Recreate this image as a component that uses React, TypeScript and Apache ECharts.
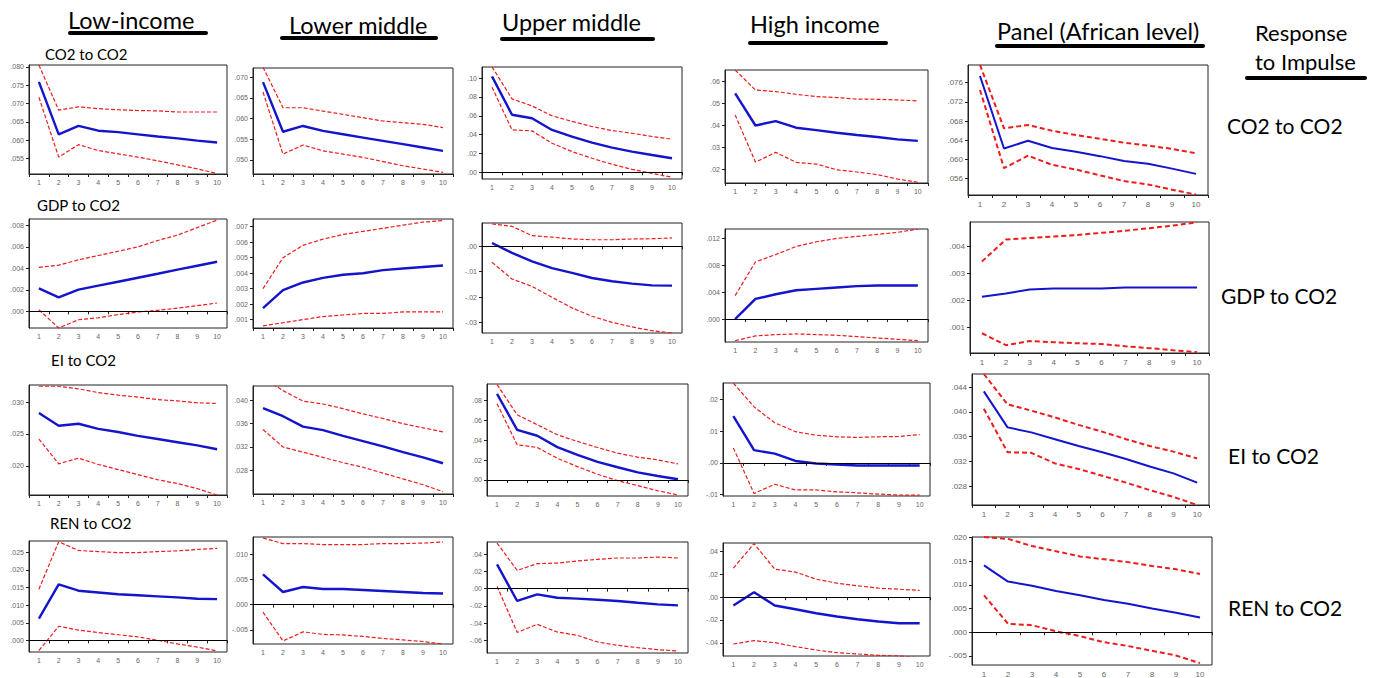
import React, { useEffect, useRef } from "react";
import * as echarts from "echarts";

const periods = ["1", "2", "3", "4", "5", "6", "7", "8", "9", "10"];

// Low-income
const lowCo2Irf = [0.0759, 0.0616, 0.0639, 0.0626, 0.0622, 0.0616, 0.061, 0.0605, 0.0599, 0.0594];
const lowCo2Up = [0.0805, 0.0682, 0.0691, 0.0686, 0.0683, 0.0681, 0.068, 0.0677, 0.0677, 0.0677];
const lowCo2Lo = [0.0717, 0.0554, 0.0588, 0.0572, 0.0563, 0.0554, 0.0544, 0.0533, 0.0522, 0.0509];
const lowGdpIrf = [0.00214, 0.0013, 0.00202, 0.00239, 0.00276, 0.00313, 0.0035, 0.00388, 0.00425, 0.00462];
const lowGdpUp = [0.0041, 0.0043, 0.0048, 0.0052, 0.0056, 0.006, 0.0066, 0.0071, 0.0078, 0.0085];
const lowGdpLo = [0.00015, -0.00155, -0.00078, -0.0006, -0.0003, -0.00006, 0.0001, 0.0003, 0.00053, 0.00078];
const lowEiIrf = [0.0283, 0.0263, 0.0266, 0.0258, 0.0253, 0.0247, 0.0242, 0.0237, 0.0232, 0.0226];
const lowEiUp = [0.0325, 0.0325, 0.0321, 0.0315, 0.0311, 0.0308, 0.0304, 0.0302, 0.0299, 0.0298];
const lowEiLo = [0.0242, 0.0203, 0.0212, 0.0202, 0.0194, 0.0186, 0.0178, 0.0172, 0.0164, 0.0154];
const lowRenIrf = [0.0062, 0.0159, 0.0141, 0.0136, 0.0131, 0.0128, 0.0125, 0.0122, 0.0118, 0.0117];
const lowRenUp = [0.0145, 0.028, 0.0255, 0.0252, 0.0249, 0.0249, 0.0252, 0.0254, 0.0258, 0.0261];
const lowRenLo = [-0.0029, 0.004, 0.0029, 0.0022, 0.0016, 0.001, 0.0, -0.001, -0.0019, -0.003];

// Lower middle
const lmCo2Irf = [0.0688, 0.0568, 0.0582, 0.057, 0.0562, 0.0554, 0.0546, 0.0538, 0.053, 0.0522];
const lmCo2Up = [0.0724, 0.0626, 0.0626, 0.0618, 0.061, 0.0602, 0.0594, 0.059, 0.0586, 0.0578];
const lmCo2Lo = [0.0664, 0.0514, 0.0536, 0.0522, 0.0514, 0.0506, 0.0496, 0.0486, 0.0478, 0.047];
const lmGdpIrf = [0.00175, 0.0029, 0.0034, 0.0037, 0.0039, 0.004, 0.0042, 0.0043, 0.0044, 0.0045];
const lmGdpUp = [0.003, 0.005, 0.0058, 0.0062, 0.0065, 0.0067, 0.0069, 0.0071, 0.0073, 0.0074];
const lmGdpLo = [0.0006, 0.0008, 0.001, 0.0012, 0.0013, 0.0014, 0.0014, 0.0015, 0.0015, 0.0015];
const lmEiIrf = [0.0387, 0.0373, 0.0355, 0.0349, 0.0339, 0.033, 0.0321, 0.0311, 0.0302, 0.0292];
const lmEiUp = [0.044, 0.0417, 0.0399, 0.0394, 0.0386, 0.0377, 0.0369, 0.036, 0.0353, 0.0346];
const lmEiLo = [0.035, 0.032, 0.0311, 0.0302, 0.0293, 0.0285, 0.0275, 0.0265, 0.0255, 0.0243];
const lmRenIrf = [0.006, 0.0025, 0.0035, 0.0031, 0.0031, 0.0029, 0.0027, 0.0025, 0.0023, 0.0022];
const lmRenUp = [0.0132, 0.0121, 0.0121, 0.0119, 0.0119, 0.0119, 0.0121, 0.0121, 0.0122, 0.0124];
const lmRenLo = [-0.0015, -0.0072, -0.0054, -0.0059, -0.006, -0.0063, -0.0067, -0.007, -0.0073, -0.0078];

// Upper middle
const umCo2Irf = [0.1018, 0.0611, 0.0574, 0.045, 0.0379, 0.0315, 0.0262, 0.022, 0.0184, 0.0149];
const umCo2Up = [0.112, 0.078, 0.0705, 0.06, 0.054, 0.0486, 0.0443, 0.0415, 0.038, 0.0351];
const umCo2Lo = [0.0904, 0.045, 0.044, 0.0309, 0.022, 0.0149, 0.0085, 0.0032, -0.0011, -0.0053];
const umGdpIrf = [0.0013, -0.0026, -0.0059, -0.0086, -0.0105, -0.0125, -0.0138, -0.0147, -0.0154, -0.0155];
const umGdpUp = [0.0088, 0.0079, 0.0042, 0.0036, 0.0029, 0.0026, 0.0026, 0.0029, 0.003, 0.0033];
const umGdpLo = [-0.0063, -0.0129, -0.0158, -0.0201, -0.0243, -0.0276, -0.03, -0.0318, -0.0333, -0.0342];
const umEiIrf = [0.0864, 0.0504, 0.0444, 0.033, 0.0252, 0.0182, 0.0128, 0.0077, 0.004, 0.0007];
const umEiUp = [0.0958, 0.0655, 0.0555, 0.0454, 0.0387, 0.0326, 0.0269, 0.0229, 0.0202, 0.0161];
const umEiLo = [0.0766, 0.0353, 0.0326, 0.0218, 0.0134, 0.0057, -0.0007, -0.0057, -0.0108, -0.0151];
const umRenIrf = [0.0283, -0.0143, -0.0066, -0.0105, -0.0116, -0.0128, -0.0143, -0.0163, -0.0182, -0.0194];
const umRenUp = [0.0531, 0.0213, 0.0291, 0.0298, 0.0322, 0.0341, 0.0357, 0.0357, 0.0368, 0.0357];
const umRenLo = [0.0027, -0.0508, -0.0415, -0.0504, -0.0543, -0.062, -0.0659, -0.0686, -0.0709, -0.0725];

// High income
const hiCo2Irf = [0.0544, 0.0398, 0.0418, 0.0388, 0.0377, 0.0365, 0.0355, 0.0346, 0.0335, 0.0328];
const hiCo2Up = [0.065, 0.0559, 0.0552, 0.054, 0.0529, 0.0525, 0.0518, 0.0517, 0.0514, 0.051];
const hiCo2Lo = [0.0446, 0.0232, 0.0276, 0.0231, 0.0223, 0.0197, 0.0187, 0.0175, 0.0155, 0.014];
const hiGdpIrf = [0.0, 0.003, 0.0037, 0.0043, 0.0045, 0.0047, 0.0049, 0.005, 0.005, 0.005];
const hiGdpUp = [0.0035, 0.0085, 0.0096, 0.0108, 0.0115, 0.012, 0.0123, 0.0126, 0.0129, 0.0134];
const hiGdpLo = [-0.0032, -0.0025, -0.0023, -0.0022, -0.0023, -0.0024, -0.0026, -0.0028, -0.003, -0.0032];
const hiEiIrf = [0.0147, 0.004, 0.0029, 0.0006, -0.0002, -0.0005, -0.0008, -0.0008, -0.0008, -0.0008];
const hiEiUp = [0.0251, 0.0176, 0.0126, 0.0098, 0.0087, 0.0082, 0.008, 0.0082, 0.0083, 0.0089];
const hiEiLo = [0.0047, -0.0096, -0.0067, -0.0085, -0.0085, -0.0091, -0.0094, -0.0098, -0.0101, -0.0101];
const hiRenIrf = [-0.0073, 0.0044, -0.0073, -0.0106, -0.0141, -0.017, -0.0194, -0.0214, -0.0229, -0.0229];
const hiRenUp = [0.0255, 0.0469, 0.0246, 0.022, 0.0158, 0.0123, 0.01, 0.0079, 0.007, 0.0059];
const hiRenLo = [-0.0411, -0.0381, -0.0399, -0.0434, -0.0463, -0.0487, -0.0498, -0.051, -0.0516, -0.053];

// Panel (African level)
const afCo2Irf = [0.0774, 0.0623, 0.0639, 0.0624, 0.0616, 0.0607, 0.0597, 0.0591, 0.0581, 0.057];
const afCo2Up = [0.0797, 0.0665, 0.0672, 0.066, 0.0651, 0.0643, 0.0635, 0.0629, 0.0622, 0.0613];
const afCo2Lo = [0.0745, 0.0582, 0.0608, 0.0589, 0.0579, 0.0567, 0.0555, 0.0548, 0.0537, 0.0527];
const afGdpIrf = [0.00213, 0.00225, 0.0024, 0.00243, 0.00243, 0.00243, 0.00247, 0.00247, 0.00247, 0.00247];
const afGdpUp = [0.00343, 0.00424, 0.0043, 0.00435, 0.00441, 0.00449, 0.00457, 0.00466, 0.00476, 0.00488];
const afGdpLo = [0.00078, 0.00034, 0.00049, 0.00045, 0.00041, 0.00038, 0.0003, 0.00023, 0.00015, 0.00008];
const afEiIrf = [0.0433, 0.0375, 0.0367, 0.0356, 0.0345, 0.0335, 0.0324, 0.0312, 0.0301, 0.0286];
const afEiUp = [0.0461, 0.0412, 0.0402, 0.0391, 0.0379, 0.0368, 0.0356, 0.0345, 0.0336, 0.0325];
const afEiLo = [0.0405, 0.0335, 0.0334, 0.0317, 0.0308, 0.0297, 0.0286, 0.0274, 0.0263, 0.025];
const afRenIrf = [0.0141, 0.0107, 0.0098, 0.0087, 0.0078, 0.0068, 0.006, 0.005, 0.0041, 0.0031];
const afRenUp = [0.0201, 0.0197, 0.0182, 0.0171, 0.016, 0.0154, 0.0148, 0.014, 0.0133, 0.0123];
const afRenLo = [0.0078, 0.0018, 0.0015, 0.0002, -0.0008, -0.0021, -0.0029, -0.0039, -0.0049, -0.0065];

// Tick labels per row/column
const lowCo2Ticks = [0.08, 0.075, 0.07, 0.065, 0.06, 0.055];
const lowGdpTicks = [0.008, 0.006, 0.004, 0.002, 0];
const lowEiTicks = [0.03, 0.025, 0.02];
const lowRenTicks = [0.025, 0.02, 0.015, 0.01, 0.005, 0];
const lmCo2Ticks = [0.07, 0.065, 0.06, 0.055, 0.05];
const lmGdpTicks = [0.007, 0.006, 0.005, 0.004, 0.003, 0.002, 0.001];
const lmEiTicks = [0.04, 0.036, 0.032, 0.028];
const lmRenTicks = [0.01, 0.005, 0, -0.005];
const umCo2Ticks = [0.1, 0.08, 0.06, 0.04, 0.02, 0];
const umGdpTicks = [0, -0.01, -0.02, -0.03];
const umEiTicks = [0.08, 0.06, 0.04, 0.02, 0];
const umRenTicks = [0.04, 0.02, 0, -0.02, -0.04, -0.06];
const hiCo2Ticks = [0.06, 0.05, 0.04, 0.03, 0.02];
const hiGdpTicks = [0.012, 0.008, 0.004, 0];
const hiEiTicks = [0.02, 0.01, 0, -0.01];
const hiRenTicks = [0.04, 0.02, 0, -0.02, -0.04];
const afCo2Ticks = [0.076, 0.072, 0.068, 0.064, 0.06, 0.056];
const afGdpTicks = [0.004, 0.003, 0.002, 0.001];
const afEiTicks = [0.044, 0.04, 0.036, 0.032, 0.028];
const afRenTicks = [0.02, 0.015, 0.01, 0.005, 0, -0.005];

const columnTitles = ["Low-income", "Lower middle", "Upper middle", "High income", "Panel (African level)"];
const rowTitles = ["CO2 to CO2", "GDP to CO2", "EI to CO2", "REN to CO2"];

type Panel = {
  irf: number[]; up: number[]; lo: number[];
  ticks: number[]; dec: number; min: number; max: number;
  box: [number, number, number, number]; col: number;
};

const panels: Panel[] = [
  // row 1
  { irf: lowCo2Irf, up: lowCo2Up, lo: lowCo2Lo, ticks: lowCo2Ticks, dec: 3, min: 0.0508, max: 0.0805, box: [29, 65, 227, 174], col: 0 },
  { irf: lmCo2Irf, up: lmCo2Up, lo: lmCo2Lo, ticks: lmCo2Ticks, dec: 3, min: 0.0466, max: 0.0722, box: [253, 68, 453, 174], col: 1 },
  { irf: umCo2Irf, up: umCo2Up, lo: umCo2Lo, ticks: umCo2Ticks, dec: 2, min: -0.0071, max: 0.1118, box: [482, 67, 682, 179], col: 2 },
  { irf: hiCo2Irf, up: hiCo2Up, lo: hiCo2Lo, ticks: hiCo2Ticks, dec: 2, min: 0.0137, max: 0.065, box: [725, 70, 928, 183], col: 3 },
  { irf: afCo2Irf, up: afCo2Up, lo: afCo2Lo, ticks: afCo2Ticks, dec: 3, min: 0.0526, max: 0.0797, box: [968, 65, 1208, 195], col: 4 },
  // row 2
  { irf: lowGdpIrf, up: lowGdpUp, lo: lowGdpLo, ticks: lowGdpTicks, dec: 3, min: -0.00155, max: 0.0086, box: [29, 219, 227, 328], col: 0 },
  { irf: lmGdpIrf, up: lmGdpUp, lo: lmGdpLo, ticks: lmGdpTicks, dec: 3, min: 0.00046, max: 0.0075, box: [253, 219, 453, 328], col: 1 },
  { irf: umGdpIrf, up: umGdpUp, lo: umGdpLo, ticks: umGdpTicks, dec: 2, min: -0.0342, max: 0.0092, box: [482, 223, 682, 333], col: 2 },
  { irf: hiGdpIrf, up: hiGdpUp, lo: hiGdpLo, ticks: hiGdpTicks, dec: 3, min: -0.0034, max: 0.0134, box: [725, 229, 928, 342], col: 3 },
  { irf: afGdpIrf, up: afGdpUp, lo: afGdpLo, ticks: afGdpTicks, dec: 3, min: 0.00005, max: 0.00489, box: [970, 222, 1209, 353], col: 4 },
  // row 3
  { irf: lowEiIrf, up: lowEiUp, lo: lowEiLo, ticks: lowEiTicks, dec: 3, min: 0.0154, max: 0.0327, box: [29, 385, 227, 495], col: 0 },
  { irf: lmEiIrf, up: lmEiUp, lo: lmEiLo, ticks: lmEiTicks, dec: 3, min: 0.0239, max: 0.0425, box: [253, 386, 453, 494], col: 1 },
  { irf: umEiIrf, up: umEiUp, lo: umEiLo, ticks: umEiTicks, dec: 2, min: -0.0161, max: 0.0964, box: [487, 384, 688, 496], col: 2 },
  { irf: hiEiIrf, up: hiEiUp, lo: hiEiLo, ticks: hiEiTicks, dec: 2, min: -0.0104, max: 0.0251, box: [723, 383, 930, 496], col: 3 },
  { irf: afEiIrf, up: afEiUp, lo: afEiLo, ticks: afEiTicks, dec: 3, min: 0.025, max: 0.0461, box: [972, 374, 1209, 505], col: 4 },
  // row 4
  { irf: lowRenIrf, up: lowRenUp, lo: lowRenLo, ticks: lowRenTicks, dec: 3, min: -0.0033, max: 0.0282, box: [29, 541, 227, 652], col: 0 },
  { irf: lmRenIrf, up: lmRenUp, lo: lmRenLo, ticks: lmRenTicks, dec: 3, min: -0.0078, max: 0.0134, box: [253, 537, 453, 644], col: 1 },
  { irf: umRenIrf, up: umRenUp, lo: umRenLo, ticks: umRenTicks, dec: 2, min: -0.0748, max: 0.0543, box: [487, 542, 688, 653], col: 2 },
  { irf: hiRenIrf, up: hiRenUp, lo: hiRenLo, ticks: hiRenTicks, dec: 2, min: -0.0516, max: 0.0475, box: [723, 543, 930, 656], col: 3 },
  { irf: afRenIrf, up: afRenUp, lo: afRenLo, ticks: afRenTicks, dec: 3, min: -0.0069, max: 0.0201, box: [972, 537, 1212, 666], col: 4 },
];

const BLUE = "#1414cc";
const RED = "#ee1c1c";
const FONT = "Lato";

function fmt(v: number, d: number): string {
  const s = Math.abs(v).toFixed(d).replace(/^0/, "");
  return (v < -1e-9 ? "-" : "") + s;
}

function buildOption() {
  const grid: any[] = [];
  const xAxis: any[] = [];
  const yAxis: any[] = [];
  const series: any[] = [];

  panels.forEach((p, i) => {
    const [l, t, r, b] = p.box;
    const panelCol = p.col === 4;
    grid.push({
      left: l, top: t, width: r - l, height: b - t,
      show: true, borderColor: "#222", borderWidth: 1, backgroundColor: "#fff",
    });
    xAxis.push({
      type: "category", gridIndex: i, data: periods, boundaryGap: true,
      axisLine: { show: true, lineStyle: { color: "#222", width: 1 } },
      axisTick: { show: true, length: 3, lineStyle: { color: "#222" } },
      axisLabel: { fontSize: panelCol ? 8 : 7, color: "#666", margin: 5, interval: 0, fontFamily: "Arial" },
      splitLine: { show: false },
    });
    yAxis.push({
      type: "value", gridIndex: i, min: p.min, max: p.max,
      axisLine: { show: true, lineStyle: { color: "#222", width: 1 } },
      axisTick: { show: true, length: 3, customValues: p.ticks, lineStyle: { color: "#222" } },
      axisLabel: {
        fontSize: panelCol ? 8 : 7, color: "#666", margin: 5, customValues: p.ticks, fontFamily: "Arial",
        formatter: (v: number) => fmt(v, p.dec),
      },
      splitLine: { show: false },
    });
    const hasZero = p.min < 0 && p.max > 0;
    series.push({
      type: "line", xAxisIndex: i, yAxisIndex: i, data: p.up, symbol: "none",
      lineStyle: { color: RED, width: panelCol ? 2 : 1.2, type: panelCol ? [5, 3] : [4, 2] },
      silent: true, z: 3,
    });
    series.push({
      type: "line", xAxisIndex: i, yAxisIndex: i, data: p.lo, symbol: "none",
      lineStyle: { color: RED, width: panelCol ? 2 : 1.2, type: panelCol ? [5, 3] : [4, 2] },
      silent: true, z: 3,
    });
    series.push({
      type: "line", xAxisIndex: i, yAxisIndex: i, data: p.irf, symbol: "none",
      lineStyle: { color: BLUE, width: panelCol ? 2 : 2.4 },
      silent: true, z: 4,
      markLine: hasZero
        ? {
            silent: true, symbol: ["none", "none"], label: { show: false },
            lineStyle: { color: "#000", type: "solid", width: 1 },
            data: [{ yAxis: 0 }],
          }
        : undefined,
    });
  });

  const graphic: any[] = [];
  const headerPos = [
    { x: 68, y: 20, ux: 68, uw: 140, uy: 31 },
    { x: 289, y: 25, ux: 280, uw: 158, uy: 36 },
    { x: 502, y: 22, ux: 500, uw: 155, uy: 37 },
    { x: 750, y: 24, ux: 748, uw: 140, uy: 41 },
    { x: 997, y: 31, ux: 995, uw: 210, uy: 44 },
  ];
  columnTitles.forEach((txt, i) => {
    const h = headerPos[i];
    graphic.push({
      type: "text", x: h.x, y: h.y,
      style: { text: txt, font: `23.5px ${FONT}`, fill: "#000", verticalAlign: "middle" },
    });
    graphic.push({
      type: "rect", shape: { x: h.ux, y: h.uy, width: h.uw, height: 4, r: 2 },
      style: { fill: "#000" },
    });
  });
  graphic.push({
    type: "text", x: 1255, y: 32,
    style: { text: "Response", font: `22px ${FONT}`, fill: "#000", verticalAlign: "middle" },
  });
  graphic.push({
    type: "text", x: 1255, y: 61,
    style: { text: "to Impulse", font: `22px ${FONT}`, fill: "#000", verticalAlign: "middle" },
  });
  graphic.push({
    type: "rect", shape: { x: 1245, y: 76, width: 122, height: 4, r: 2 },
    style: { fill: "#000" },
  });
  const rowRight = [
    { x: 1227, y: 125 },
    { x: 1221, y: 295 },
    { x: 1228, y: 455 },
    { x: 1228, y: 607 },
  ];
  const rowLeft = [
    { x: 45, y: 54 },
    { x: 37, y: 205 },
    { x: 51, y: 360 },
    { x: 50, y: 523 },
  ];
  rowTitles.forEach((txt, i) => {
    graphic.push({
      type: "text", x: rowRight[i].x, y: rowRight[i].y,
      style: { text: txt, font: `21px ${FONT}`, fill: "#000", verticalAlign: "middle" },
    });
    graphic.push({
      type: "text", x: rowLeft[i].x, y: rowLeft[i].y,
      style: { text: txt, font: `15px ${FONT}`, fill: "#000", verticalAlign: "middle" },
    });
  });

  return {
    animation: false,
    backgroundColor: "#fff",
    grid, xAxis, yAxis, series, graphic,
  };
}

export default function App() {
  const ref = useRef<HTMLDivElement>(null);
  useEffect(() => {
    if (!ref.current) return;
    const chart = echarts.init(ref.current, null, { renderer: "svg" });
    chart.setOption(buildOption() as any);
    return () => chart.dispose();
  }, []);
  return (
    <div
      ref={ref}
      style={{ position: "fixed", left: 0, top: 0, width: 1379, height: 678, background: "#fff" }}
    />
  );
}
